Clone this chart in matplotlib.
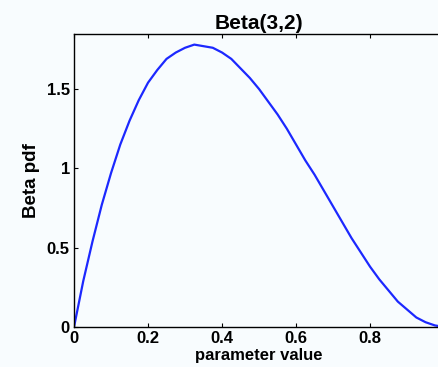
import matplotlib
matplotlib.use("Agg")
import matplotlib.pyplot as plt

# values
x_vals = [0.0, 0.025, 0.05, 0.075, 0.1, 0.125, 0.15, 0.175, 0.2, 0.225,
          0.25, 0.275, 0.3, 0.325, 0.35, 0.375, 0.4, 0.425, 0.45, 0.475,
          0.5, 0.525, 0.55, 0.575, 0.6, 0.625, 0.65, 0.675, 0.7, 0.725,
          0.75, 0.775, 0.8, 0.825, 0.85, 0.875, 0.9, 0.925, 0.95, 0.975, 1.0]
pdf_vals = [0.0, 0.29, 0.54, 0.77, 0.97, 1.15, 1.30, 1.43, 1.54, 1.62,
            1.69, 1.73, 1.76, 1.78, 1.77, 1.76, 1.73, 1.69, 1.63, 1.57,
            1.50, 1.42, 1.34, 1.25, 1.15, 1.05, 0.96, 0.86, 0.76, 0.66,
            0.56, 0.47, 0.38, 0.30, 0.23, 0.16, 0.11, 0.06, 0.03, 0.01, 0.0]
x_ticks = [0, 0.2, 0.4, 0.6, 0.8]
x_labels = ["0", "0.2", "0.4", "0.6", "0.8"]
y_ticks = [0, 0.5, 1, 1.5]
y_labels = ["0", "0.5", "1", "1.5"]

bg = "#f8fcfe"
plt.rcParams["font.family"] = ["Liberation Sans", "DejaVu Sans"]
plt.rcParams["font.weight"] = "bold"

fig = plt.figure(figsize=(4.39, 3.67), dpi=100, facecolor=bg)
ax = fig.add_axes([0.1686, 0.109, 0.843, 0.798], facecolor=bg)

ax.plot(x_vals, pdf_vals, color="#1c28ff", lw=1.6)

ax.set_xlim(0, 1)
ax.set_ylim(0, 1.846)
ax.set_xticks(x_ticks)
ax.set_xticklabels(x_labels)
ax.set_yticks(y_ticks)
ax.set_yticklabels(y_labels)
ax.tick_params(direction="in", length=3, width=0.8, top=True, right=True,
               labelsize=12, pad=3)
for s in ax.spines.values():
    s.set_linewidth(1.0)

ax.set_title("Beta(3,2)", fontsize=15, fontweight="bold", pad=4)
ax.set_xlabel("parameter value", fontsize=12, fontweight="bold", labelpad=1)
ax.set_ylabel("Beta pdf", fontsize=13.5, fontweight="bold", labelpad=5)

fig.savefig("out.png", dpi=100, facecolor=bg)
